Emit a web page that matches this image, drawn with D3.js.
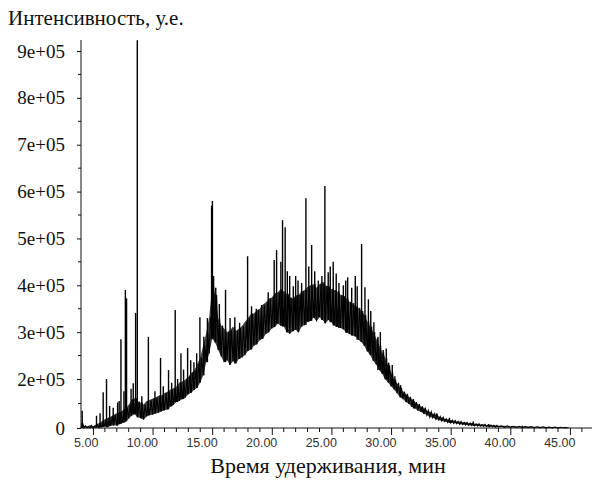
<!DOCTYPE html>
<html>
<head>
<meta charset="utf-8">
<script src="https://cdn.jsdelivr.net/npm/d3@7"></script>
<style>
  body { margin: 0; background: #fff; }
  svg { display: block; }
</style>
</head>
<body>
<svg id="chart" width="594" height="480"></svg>
<script>
// Chromatogram: retention time (min) vs. intensity.
// The noisy trace is stored as a lower / upper envelope per time sample,
// the sharp peaks as separate (time, height) pairs.
const sampleTimes = [
  4.00, 4.25, 4.50, 4.75, 5.00, 5.25, 5.50, 5.75, 6.00, 6.25, 6.50, 6.75,
  7.00, 7.25, 7.50, 7.75, 8.00, 8.25, 8.50, 8.75, 9.00, 9.25, 9.50, 9.75,
  10.00, 10.25, 10.50, 10.75, 11.00, 11.25, 11.50, 11.75, 12.00, 12.25, 12.50, 12.75,
  13.00, 13.25, 13.50, 13.75, 14.00, 14.25, 14.50, 14.75, 15.00, 15.25, 15.50, 15.75,
  16.00, 16.25, 16.50, 16.75, 17.00, 17.25, 17.50, 17.75, 18.00, 18.25, 18.50, 18.75,
  19.00, 19.25, 19.50, 19.75, 20.00, 20.25, 20.50, 20.75, 21.00, 21.25, 21.50, 21.75,
  22.00, 22.25, 22.50, 22.75, 23.00, 23.25, 23.50, 23.75, 24.00, 24.25, 24.50, 24.75,
  25.00, 25.25, 25.50, 25.75, 26.00, 26.25, 26.50, 26.75, 27.00, 27.25, 27.50, 27.75,
  28.00, 28.25, 28.50, 28.75, 29.00, 29.25, 29.50, 29.75, 30.00, 30.25, 30.50, 30.75,
  31.00, 31.25, 31.50, 31.75, 32.00, 32.25, 32.50, 32.75, 33.00, 33.25, 33.50, 33.75,
  34.00, 34.25, 34.50, 34.75, 35.00, 35.25, 35.50, 35.75, 36.00, 36.25, 36.50, 36.75,
  37.00, 37.25, 37.50, 37.75, 38.00, 38.25, 38.50, 38.75, 39.00, 39.50, 40.00, 40.50,
  41.00, 41.50, 42.00, 42.50, 43.00, 43.50, 44.00, 44.50, 44.75
];
const lowIntensity = [
  0, 0, 1000, 0, 0, 2000, 1000, 4000, 6000, 3000, 9000, 11000,
  10000, 16000, 21000, 27000, 38000, 50000, 56000, 44000, 40000, 34000, 47000, 52000,
  54000, 59000, 62000, 68000, 72000, 76000, 88000, 94000, 106000, 110000, 118000, 124000,
  138000, 144000, 156000, 164000, 186000, 208000, 236000, 254000, 286000, 278000, 262000, 248000,
  236000, 240000, 230000, 238000, 233000, 243000, 246000, 251000, 260000, 263000, 271000, 274000,
  283000, 286000, 296000, 300000, 308000, 311000, 318000, 314000, 312000, 300000, 297000, 302000,
  305000, 300000, 312000, 315000, 322000, 324000, 331000, 323000, 332000, 326000, 319000, 326000,
  321000, 314000, 311000, 309000, 306000, 299000, 296000, 293000, 291000, 284000, 279000, 271000,
  259000, 251000, 239000, 231000, 219000, 211000, 199000, 186000, 170000, 157000, 142000, 126000,
  118000, 106000, 98000, 86000, 80000, 71000, 66000, 58000, 53000, 45000, 42000, 36000,
  33000, 29000, 27000, 23000, 21000, 19000, 18000, 15000, 14000, 12000, 11000, 10000,
  9000, 8000, 7500, 7000, 6000, 5000, 5000, 3500, 4000, 3000, 2500, 2000,
  1500, 1500, 1000, 800, 600, 400, 0, 0, 0
];
const highIntensity = [
  22000, 9000, 6000, 11000, 7000, 14000, 19000, 28000, 36000, 42000, 47000, 54000,
  60000, 64000, 72000, 82000, 95000, 116000, 122000, 108000, 104000, 96000, 110000, 114000,
  120000, 124000, 132000, 134000, 143000, 148000, 157000, 162000, 170000, 186000, 190000, 198000,
  205000, 213000, 218000, 232000, 246000, 272000, 298000, 332000, 398000, 380000, 330000, 314000,
  308000, 300000, 304000, 312000, 303000, 308000, 313000, 322000, 330000, 339000, 340000, 347000,
  350000, 359000, 363000, 372000, 374000, 383000, 385000, 392000, 387000, 382000, 374000, 372000,
  378000, 380000, 387000, 390000, 397000, 400000, 403000, 395000, 402000, 407000, 399000, 398000,
  392000, 390000, 387000, 380000, 377000, 372000, 365000, 362000, 355000, 352000, 345000, 337000,
  324000, 312000, 300000, 287000, 272000, 257000, 246000, 229000, 215000, 198000, 184000, 164000,
  149000, 139000, 127000, 118000, 106000, 98000, 88000, 83000, 71000, 66000, 58000, 54000,
  47000, 44000, 38000, 36000, 32000, 31000, 27000, 27000, 23000, 23000, 20000, 20000,
  17000, 17000, 14000, 15000, 12000, 12000, 11000, 11000, 9000, 9000, 7000, 7000,
  6000, 6000, 5000, 5000, 4000, 4000, 3000, 2500, 2000
];

const peakTimes = [
  4.10, 5.30, 5.60, 5.86, 6.14, 6.40, 6.70, 7.07, 7.20, 7.35, 7.60, 7.72, 7.82,
  8.20, 8.38, 8.58, 8.72, 9.10, 9.65, 10.20, 10.67, 10.90, 11.34, 11.60, 11.90,
  12.10, 12.38, 12.60, 12.94, 13.20, 13.47, 13.70, 13.97, 14.30, 14.60, 14.95, 15.02,
  15.12, 15.30, 15.60, 16.12, 16.50, 16.90, 17.30, 17.97, 18.30, 18.70, 19.14, 19.70,
  20.20, 20.40, 20.76, 20.90, 21.12, 21.30, 21.50, 21.80, 22.00, 22.20, 22.50, 22.86,
  23.10, 23.34, 23.60, 23.90, 24.20, 24.45, 24.73, 24.90, 25.15, 25.40, 25.63, 26.00,
  26.20, 26.36, 26.70, 27.00, 27.16, 27.53, 27.81, 28.10, 28.30, 28.56, 28.90, 29.10,
  29.34, 29.60, 29.80, 30.10, 30.32, 30.80, 31.30, 31.90, 32.60, 33.80, 34.90, 36.90,
  38.20, 41.00
];
const peakIntensity = [
  70000, 50000, 60000, 146000, 200000, 90000, 83000, 104000, 110000, 285000, 150000, 390000, 372000,
  160000, 183000, 341000, 923000, 130000, 290000, 150000, 245000, 170000, 219000, 185000, 347000,
  200000, 255000, 220000, 266000, 240000, 236000, 255000, 332000, 290000, 330000, 570000, 580000,
  420000, 395000, 360000, 390000, 330000, 332000, 320000, 462000, 355000, 350000, 358000, 385000,
  454000, 475000, 450000, 539000, 524000, 430000, 420000, 398000, 420000, 410000, 405000, 586000,
  440000, 486000, 430000, 410000, 420000, 612000, 428000, 440000, 450000, 425000, 405000, 400000,
  410000, 417000, 395000, 420000, 398000, 488000, 396000, 370000, 345000, 321000, 290000, 300000,
  262000, 265000, 235000, 230000, 206000, 175000, 133000, 110000, 79000, 60000, 42000, 27000,
  16000, 9000
];

const xTickValues = [5, 10, 15, 20, 25, 30, 35, 40, 45];
const xTickLabels = ["5.00", "10.00", "15.00", "20.00", "25.00", "30.00", "35.00", "40.00", "45.00"];
const yTickValues = [0, 200000, 300000, 400000, 500000, 600000, 700000, 800000, 900000];
const yTickLabels = ["0", "2e+05", "3e+05", "4e+05", "5e+05", "6e+05", "7e+05", "8e+05", "9e+05"];

const yTitle = "Интенсивность, у.е.";
const xTitle = "Время удерживания, мин";

const serif = "'Liberation Serif', 'Times New Roman', serif";
const sans = "'Liberation Sans', Arial, sans-serif";

const svg = d3.select("#chart");

const left = 81, right = 592, bottom = 428, axisTop = 40;

const x = d3.scaleLinear().domain([4, 46.85]).range([left, right]);
// the first labelled interval (0 .. 2e+05) spans one grid step, the rest 1e+05 each
const y = d3.scaleLinear().domain([0, 200000, 900000]).range([bottom, 379, 51]);

// ---- trace body: shaded band between the envelopes ----
const band = d3.area()
  .x((d, i) => x(sampleTimes[i]))
  .y0((d, i) => y(lowIntensity[i]))
  .y1((d, i) => y(highIntensity[i]));

svg.append("path")
  .attr("d", band(sampleTimes))
  .attr("fill", "#000")
  .attr("fill-opacity", 0.75);

// ---- trace: zig-zag between the lower and upper envelope ----
const tracePts = [];
sampleTimes.forEach((t, i) => {
  const next = i < sampleTimes.length - 1 ? sampleTimes[i + 1] : t + 0.25;
  tracePts.push([t, lowIntensity[i]]);
  tracePts.push([t + (next - t) / 2, highIntensity[i]]);
});

const line = d3.line().x(d => x(d[0])).y(d => y(d[1]));

svg.append("path")
  .attr("d", line(tracePts))
  .attr("fill", "none")
  .attr("stroke", "#000")
  .attr("stroke-width", 1.1);

// ---- sharp peaks rising from the trace ----
const nearest = t => {
  const i = d3.bisector(d => d).center(sampleTimes, t);
  return lowIntensity[i];
};
svg.append("g")
  .selectAll("line")
  .data(peakTimes.map((t, i) => ({ t, v: peakIntensity[i] })))
  .join("line")
  .attr("x1", d => x(d.t))
  .attr("x2", d => x(d.t))
  .attr("y1", d => y(nearest(d.t)))
  .attr("y2", d => y(d.v))
  .attr("stroke", "#000")
  .attr("stroke-width", 1.4);

// ---- axes ----
const axisColor = "#111";

svg.append("line")
  .attr("x1", left).attr("x2", left)
  .attr("y1", axisTop).attr("y2", bottom)
  .attr("stroke", axisColor).attr("stroke-width", 1);
svg.append("line")
  .attr("x1", left).attr("x2", right)
  .attr("y1", bottom).attr("y2", bottom)
  .attr("stroke", axisColor).attr("stroke-width", 1);

// y axis: labelled major ticks plus half-step minor ticks
const yAxis = d3.axisLeft(y)
  .tickValues(yTickValues)
  .tickFormat((d, i) => yTickLabels[i])
  .tickSize(4)
  .tickPadding(12);
const gy = svg.append("g").attr("transform", `translate(${left},0)`).call(yAxis);
gy.select(".domain").remove();
gy.selectAll("line").attr("stroke", axisColor);
gy.selectAll("text")
  .attr("font-family", serif)
  .attr("font-size", 19)
  .attr("fill", "#111");

const yMinor = [100000, 250000, 350000, 450000, 550000, 650000, 750000, 850000];
svg.append("g").selectAll("line").data(yMinor).join("line")
  .attr("x1", left - 3).attr("x2", left)
  .attr("y1", d => y(d)).attr("y2", d => y(d))
  .attr("stroke", axisColor);

// x axis: major ticks every 5 min, minor ticks every minute
const xMinor = d3.range(5, 47, 1).filter(v => v % 5 !== 0);
svg.append("g").selectAll("line").data(xMinor).join("line")
  .attr("x1", d => x(d)).attr("x2", d => x(d))
  .attr("y1", bottom).attr("y2", bottom + 4)
  .attr("stroke", axisColor);

const xAxis = d3.axisBottom(x)
  .tickValues(xTickValues)
  .tickFormat((d, i) => xTickLabels[i])
  .tickSize(7)
  .tickPadding(3);
const gx = svg.append("g").attr("transform", `translate(0,${bottom})`).call(xAxis);
gx.select(".domain").remove();
gx.selectAll("line").attr("stroke", axisColor);
gx.selectAll("text")
  .attr("font-family", sans)
  .attr("font-size", 12.5)
  .attr("fill", "#333")
  .attr("text-anchor", "end")
  .attr("dx", 5);

// ---- titles ----
svg.append("text")
  .attr("x", 8).attr("y", 25)
  .attr("font-family", serif)
  .attr("font-size", 21)
  .attr("fill", "#111")
  .text(yTitle);

svg.append("text")
  .attr("x", 328).attr("y", 473)
  .attr("text-anchor", "middle")
  .attr("font-family", serif)
  .attr("font-size", 22)
  .attr("fill", "#111")
  .text(xTitle);
</script>
</body>
</html>
